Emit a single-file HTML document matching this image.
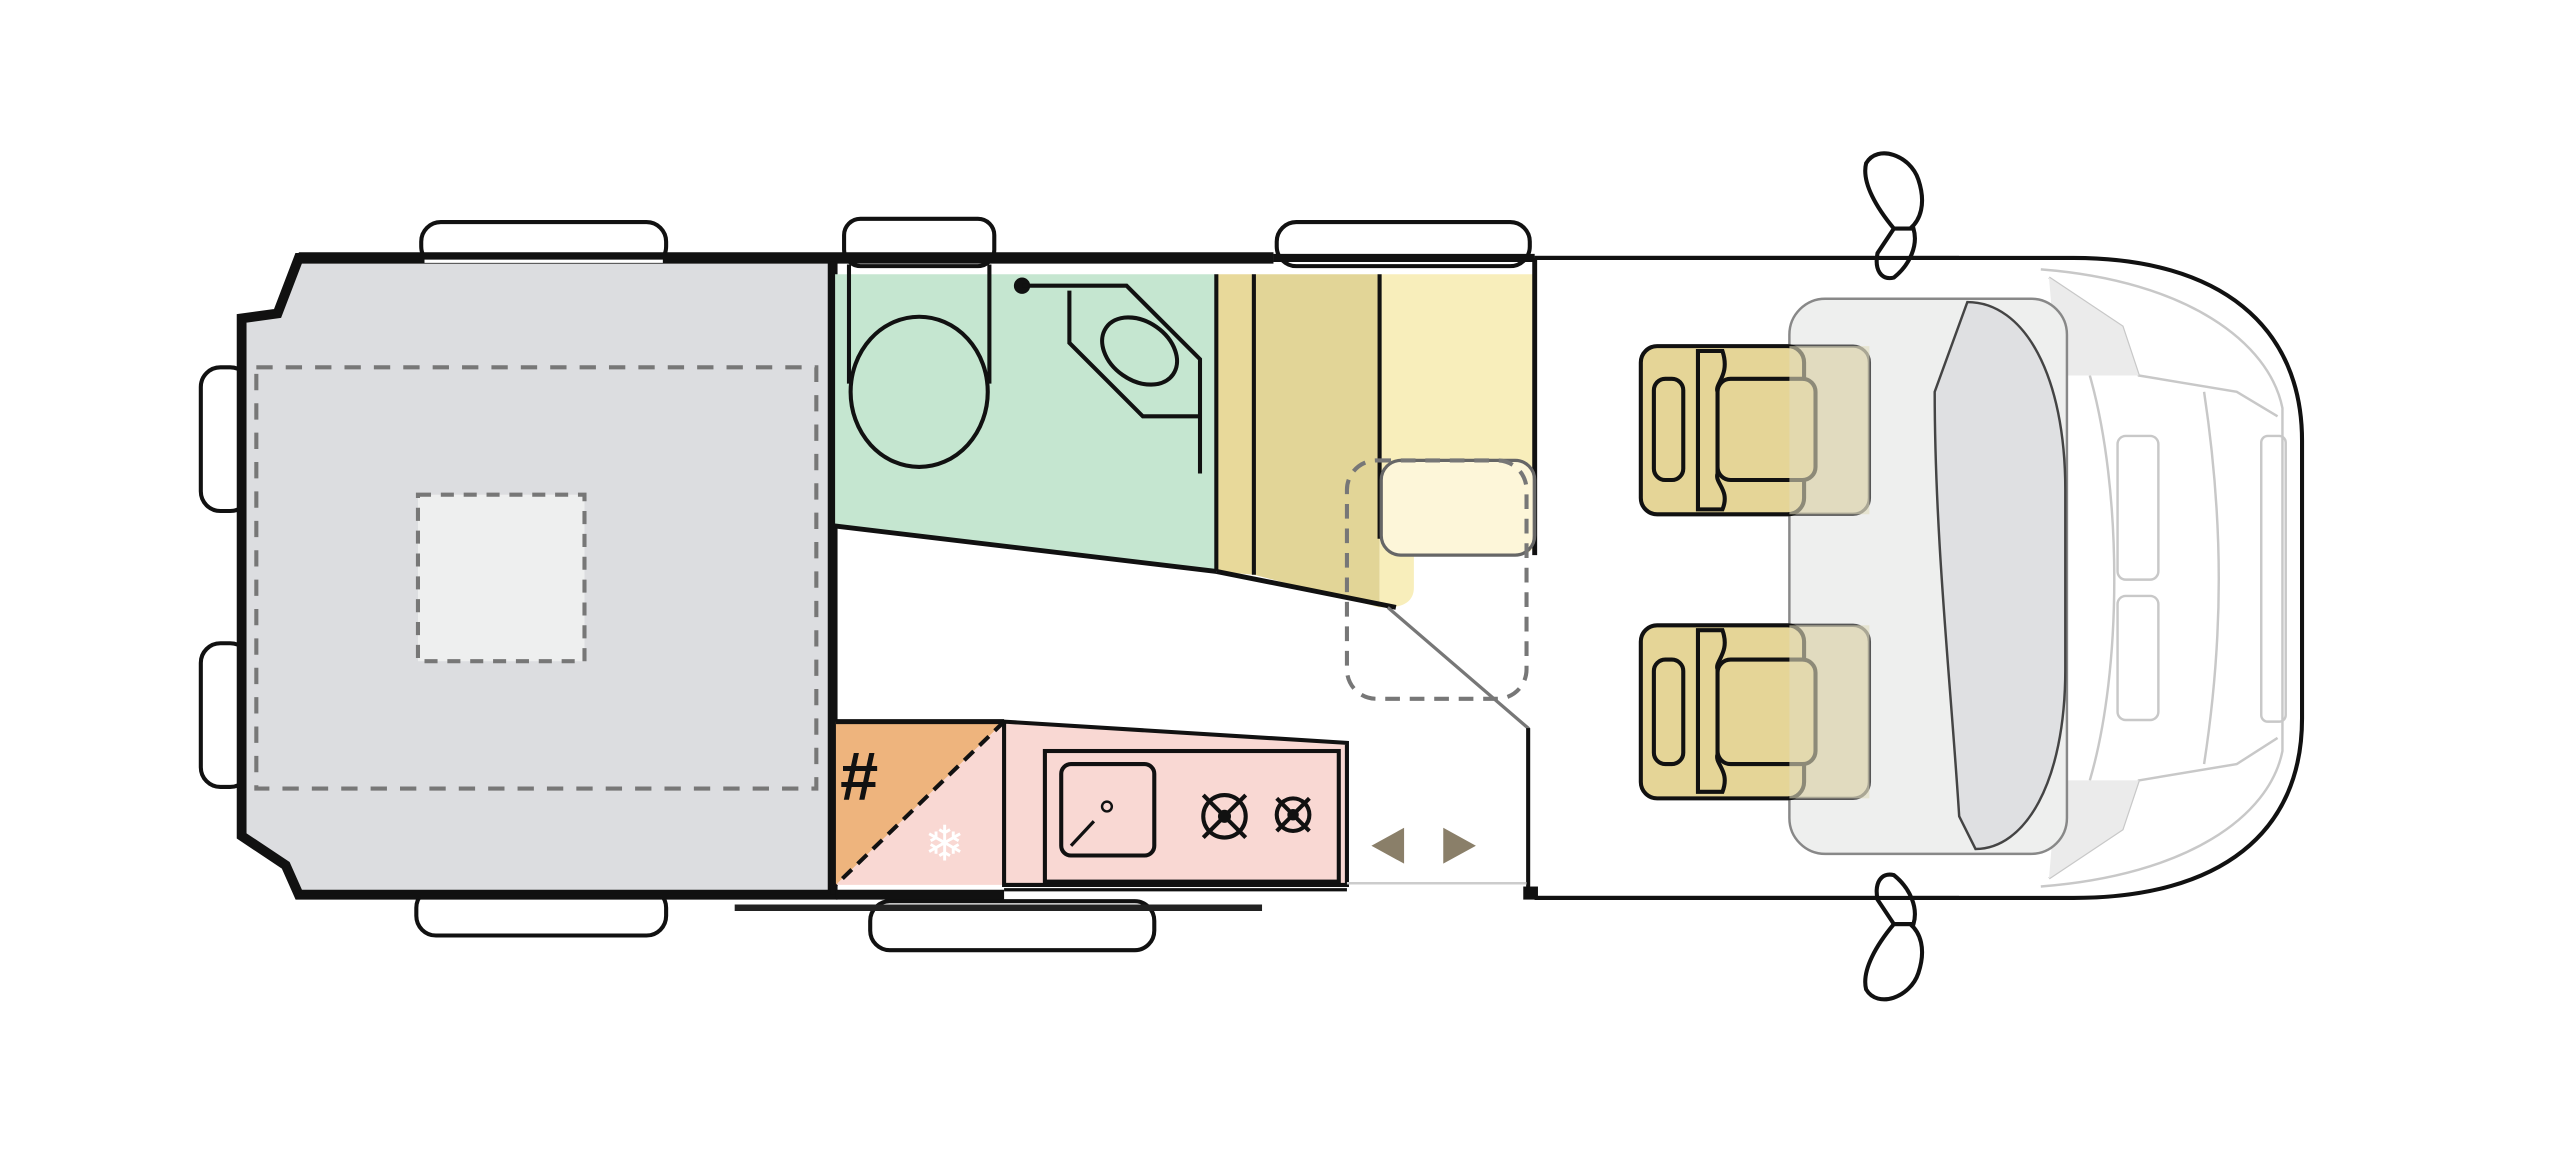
<!DOCTYPE html>
<html><head><meta charset="utf-8"><style>html,body{margin:0;padding:0;background:#fff;width:2560px;height:1152px;overflow:hidden}svg{display:block}</style></head>
<body>
<svg width="2560" height="1152" viewBox="0 0 1568 705.6" preserveAspectRatio="none" xmlns="http://www.w3.org/2000/svg">
<rect width="1568" height="706" fill="#fff"/>
<!-- windows -->
<g fill="#fff" stroke="#111" stroke-width="2.5">
<rect x="258" y="136" width="150" height="27" rx="12"/>
<rect x="517" y="134" width="92" height="29" rx="10"/>
<rect x="782" y="136" width="155" height="27" rx="12"/>
<rect x="255" y="544" width="153" height="29" rx="12"/>
<rect x="533" y="552" width="174" height="30" rx="12"/>
<rect x="123" y="225" width="30" height="88" rx="12"/>
<rect x="123" y="394" width="30" height="88" rx="12"/>
</g>
<!-- cabin outline -->
<path d="M940 158 L1270 158 C1360 158 1410 200 1410 270 L1410 440 C1410 510 1360 550 1270 550 L940 550" fill="#fff" stroke="#111" stroke-width="2.5"/>
<g fill="none" stroke="#c8c8c8" stroke-width="1.5">
<path d="M1250 165 C1340 172 1390 210 1398 250 L1398 460 C1390 500 1340 536 1250 543"/>
<path d="M1255 170 L1300 200 L1310 230 L1370 240 L1395 255"/>
<path d="M1255 538 L1300 508 L1310 478 L1370 468 L1395 452"/>
<path d="M1280 230 C1300 300 1300 410 1280 478"/>
<path d="M1350 240 C1362 320 1362 390 1350 468"/>
<rect x="1297" y="267" width="25" height="88" rx="5"/>
<rect x="1297" y="365" width="25" height="76" rx="5"/>
<rect x="1385" y="267" width="15" height="175" rx="4"/>
</g>
<path d="M1255 170 L1300 200 L1310 230 L1260 230Z M1255 538 L1300 508 L1310 478 L1260 478Z" fill="#ebebeb"/>
<!-- windscreen/dash -->
<rect x="1096" y="183" width="170" height="340" rx="22" fill="#eeefee" stroke="#888" stroke-width="1.5"/>
<path d="M1205 185 C1240 185 1265 230 1265 300 L1265 410 C1265 480 1240 520 1210 520 L1200 500 C1195 420 1185 330 1185 240 Z" fill="#dfe0e2" stroke="#444" stroke-width="1.5"/>
<!-- seats -->
<g>
<rect x="1005" y="212" width="140" height="103" rx="10" fill="rgba(200,180,110,0.35)" stroke="#555" stroke-width="2"/>
<rect x="1005" y="212" width="100" height="103" rx="10" fill="#e5d597" stroke="#111" stroke-width="2.5"/>
<path d="M1040 215 L1055 215 C1060 230 1050 235 1052 240 L1052 290 C1050 296 1060 300 1055 312 L1040 312Z" fill="#e5d597" stroke="#111" stroke-width="2.5"/>
<rect x="1052" y="232" width="60" height="62" rx="8" fill="#e5d597" stroke="#111" stroke-width="2.5"/>
<rect x="1013" y="232" width="18" height="62" rx="7" fill="#e5d597" stroke="#111" stroke-width="2.5"/>
<rect x="1096" y="212" width="49" height="103" fill="rgba(225,220,190,0.6)"/>
<rect x="1005" y="383" width="140" height="106" rx="10" fill="rgba(200,180,110,0.35)" stroke="#555" stroke-width="2"/>
<rect x="1005" y="383" width="100" height="106" rx="10" fill="#e5d597" stroke="#111" stroke-width="2.5"/>
<path d="M1040 386 L1055 386 C1060 400 1050 405 1052 410 L1052 462 C1050 468 1060 472 1055 485 L1040 485Z" fill="#e5d597" stroke="#111" stroke-width="2.5"/>
<rect x="1052" y="404" width="60" height="64" rx="8" fill="#e5d597" stroke="#111" stroke-width="2.5"/>
<rect x="1013" y="404" width="18" height="64" rx="7" fill="#e5d597" stroke="#111" stroke-width="2.5"/>
<rect x="1096" y="383" width="49" height="106" fill="rgba(225,220,190,0.6)"/>
</g>
<!-- mirrors -->
<g fill="#fff" stroke="#111" stroke-width="2.5">
<path d="M1143 100 C1150 88 1170 95 1175 110 C1180 125 1176 135 1170 140 L1160 140 C1150 128 1140 112 1143 100Z"/>
<path d="M1160 140 L1172 140 C1175 150 1170 162 1160 170 C1152 172 1148 165 1150 155Z"/>
<path d="M1143 606 C1150 618 1170 611 1175 596 C1180 581 1176 571 1170 566 L1160 566 C1150 578 1140 594 1143 606Z"/>
<path d="M1160 566 L1172 566 C1175 556 1170 544 1160 536 C1152 534 1148 541 1150 551Z"/>
</g>
<!-- rear bed -->
<path d="M183 158 L510 158 L510 548 L183 548 L175 530 L148 512 L148 195 L170 192 Z" fill="#dcdde0" stroke="#111" stroke-width="6"/>
<rect x="157" y="225" width="343" height="258" fill="none" stroke="#777" stroke-width="2.5" stroke-dasharray="10 8"/>
<rect x="256" y="303" width="102" height="102" fill="#eeefef" stroke="#777" stroke-width="2.5" stroke-dasharray="8 6"/>
<!-- walls -->
<line x1="183" y1="158" x2="780" y2="158" stroke="#111" stroke-width="7"/>
<line x1="260" y1="160" x2="406" y2="160" stroke="#fff" stroke-width="2"/>
<!-- bathroom -->
<path d="M510 168 L745 168 L745 350 L510 322Z" fill="#c5e6d0"/>
<path d="M510 322 L745 350" stroke="#111" stroke-width="3"/>
<line x1="510" y1="160" x2="510" y2="548" stroke="#111" stroke-width="3"/>
<path d="M520 162 L520 235 M606 162 L606 235" stroke="#111" stroke-width="2.5"/>
<ellipse cx="563" cy="240" rx="42" ry="46" fill="none" stroke="#111" stroke-width="2.5"/>
<circle cx="626" cy="175" r="5" fill="#111"/>
<path d="M626 175 L690 175 L735 220 L735 290 M655 178 L655 210 L700 255 L735 255" fill="none" stroke="#111" stroke-width="2.5"/>
<ellipse cx="698" cy="215" rx="25" ry="18" transform="rotate(35 698 215)" fill="none" stroke="#111" stroke-width="2.5"/>
<!-- yellow wardrobe -->
<path d="M745 168 L768 168 L768 352 L745 350Z" fill="#e8d99a"/>
<path d="M768 168 L845 168 L845 372 L768 352Z" fill="#e2d597"/>
<path d="M845 168 L940 168 L940 330 C940 338 935 340 930 340 L866 340 L866 360 C866 368 860 372 850 372 L845 372Z" fill="#f8eebb"/>
<path d="M745 168 L745 350 M768 168 L768 352 M845 168 L845 330" stroke="#111" stroke-width="2.5"/>
<path d="M745 350 L855 372" stroke="#111" stroke-width="3"/>
<line x1="940" y1="158" x2="940" y2="340" stroke="#111" stroke-width="3"/>
<rect x="846" y="282" width="94" height="58" rx="12" fill="rgba(255,250,230,0.7)" stroke="#666" stroke-width="2"/>
<rect x="825" y="282" width="110" height="146" rx="18" fill="none" stroke="#777" stroke-width="2.5" stroke-dasharray="9 6"/>
<path d="M850 372 L936 446 L936 548" fill="none" stroke="#777" stroke-width="2"/>
<line x1="936" y1="446" x2="936" y2="548" stroke="#111" stroke-width="2.5"/>
<rect x="933" y="543" width="9" height="8" fill="#111"/>
<line x1="780" y1="158" x2="940" y2="158" stroke="#111" stroke-width="5"/>
<line x1="940" y1="158" x2="1200" y2="158" stroke="#111" stroke-width="2.5"/>
<line x1="940" y1="550" x2="1200" y2="550" stroke="#111" stroke-width="2.5"/>
<!-- kitchen -->
<path d="M512 442 L615 442 L512 542Z" fill="#eeb47d"/>
<path d="M615 442 L512 542 L615 542Z" fill="#f9d8d3"/>
<path d="M615 442 L825 455 L825 542 L615 542Z" fill="#f9d8d3" stroke="#111" stroke-width="2.5"/>
<line x1="512" y1="442" x2="615" y2="442" stroke="#111" stroke-width="3"/>
<line x1="615" y1="442" x2="512" y2="542" stroke="#111" stroke-width="2.5" stroke-dasharray="8 5"/>
<rect x="640" y="460" width="180" height="80" fill="none" stroke="#111" stroke-width="2.5"/>
<rect x="650" y="468" width="57" height="56" rx="6" fill="none" stroke="#111" stroke-width="2.5"/>
<circle cx="678" cy="494" r="3" fill="none" stroke="#111" stroke-width="1.5"/>
<path d="M656 518 L670 503" stroke="#111" stroke-width="2"/>
<g stroke="#111" stroke-width="2.5" fill="none">
<circle cx="750" cy="500" r="13"/><path d="M737 487 L763 513 M763 487 L737 513"/>
<circle cx="792" cy="499" r="10"/><path d="M782 489 L802 509 M802 489 L782 509"/>
</g>
<circle cx="750" cy="500" r="4" fill="#111"/><circle cx="792" cy="499" r="3.5" fill="#111"/>
<text x="514" y="490" font-family="Liberation Sans, sans-serif" font-size="42" font-weight="bold" font-style="italic" fill="#111">#</text>
<text x="566" y="527" font-family="DejaVu Sans, sans-serif" font-size="30" fill="#fff">❄</text>
<line x1="512" y1="548" x2="615" y2="548" stroke="#111" stroke-width="6"/>
<line x1="615" y1="545" x2="825" y2="545" stroke="#111" stroke-width="2"/>
<line x1="825" y1="541" x2="935" y2="541" stroke="#ccc" stroke-width="1.5"/>
<line x1="450" y1="556" x2="773" y2="556" stroke="#222" stroke-width="4"/>
<!-- arrows -->
<path d="M860 507 L840 518 L860 529Z M884 507 L904 518 L884 529Z" fill="#8a7f69"/>
</svg>
</body></html>
